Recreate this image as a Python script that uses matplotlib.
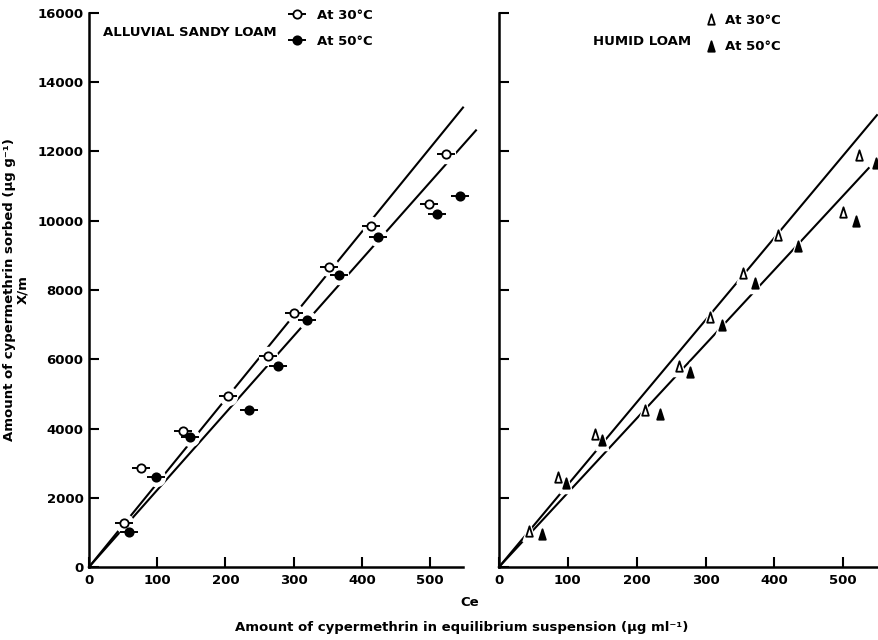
import matplotlib
matplotlib.use("Agg")
from matplotlib import pyplot as plt
from matplotlib.path import Path

# ---- data ----
left_30_x = [52, 76, 138, 203, 262, 300, 351, 413, 498, 523]
left_30_y = [1280, 2850, 3930, 4940, 6100, 7350, 8650, 9850, 10480, 11930]
left_50_x = [59, 98, 148, 235, 277, 320, 367, 423, 510, 543]
left_50_y = [1020, 2590, 3760, 4520, 5800, 7130, 8430, 9540, 10200, 10720]

right_30_x = [44, 86, 140, 212, 262, 307, 355, 405, 500, 523]
right_30_y = [1050, 2610, 3830, 4530, 5810, 7220, 8500, 9590, 10260, 11900]
right_50_x = [62, 98, 150, 234, 278, 324, 372, 435, 518, 547]
right_50_y = [950, 2440, 3670, 4410, 5640, 6990, 8190, 9280, 10000, 11660]

# fitted isotherm lines: (x end, y end), both through origin
left_30_fit = (548, 13270)
left_50_fit = (567, 12610)
right_30_fit = (549, 13050)
right_50_fit = (537, 11520)

y_ticks = [0, 2000, 4000, 6000, 8000, 10000, 12000, 14000, 16000]
x_ticks = [0, 100, 200, 300, 400, 500]

FONT = dict(family="DejaVu Sans", weight="bold")
plt.rcParams["font.family"] = "DejaVu Sans"
plt.rcParams["font.weight"] = "bold"

tri_path = Path([(-0.32, -0.5), (0.32, -0.5), (0.0, 0.5), (-0.32, -0.5)],
                [Path.MOVETO, Path.LINETO, Path.LINETO, Path.CLOSEPOLY])

fig = plt.figure(figsize=(8.79, 6.4), dpi=100)
ax_l = fig.add_axes([89 / 879, 73 / 640, 374 / 879, 554 / 640])
ax_r = fig.add_axes([499 / 879, 73 / 640, 380 / 879, 554 / 640])


def style_axes(ax, xmax, show_ylabels):
    ax.set_xlim(0, xmax)
    ax.set_ylim(0, 16000)
    for side in ("top", "right"):
        ax.spines[side].set_visible(False)
    for side in ("left", "bottom"):
        ax.spines[side].set_linewidth(1.8)
    ax.set_xticks(x_ticks)
    ax.set_yticks(y_ticks)
    ax.tick_params(direction="in", length=7, width=1.5, labelsize=9.5, pad=5)
    ax.tick_params(axis="y", pad=4)
    if not show_ylabels:
        ax.set_yticklabels([])
    else:
        ax.set_yticklabels([str(t) for t in y_ticks])
    for lab in ax.get_xticklabels() + ax.get_yticklabels():
        lab.set_fontweight("bold")


def draw_fit(ax, fit):
    ax.plot([0, fit[0]], [0, fit[1]], color="black", lw=1.5, clip_on=False, zorder=2)


def draw_points(ax, xs, ys, marker, filled, ms, dash):
    # white halo breaks the fit line round each point
    ax.plot(xs, ys, ls="none", marker=marker, ms=ms + 7, mfc="white", mec="white",
            clip_on=False, zorder=3)
    handles = []
    if dash:
        d, = ax.plot(xs, ys, ls="none", marker="_", ms=ms * 2.1, mew=1.4,
                     color="black", clip_on=False, zorder=4)
        handles.append(d)
    m, = ax.plot(xs, ys, ls="none", marker=marker, ms=ms, mew=1.3,
                 mfc="black" if filled else "white", mec="black",
                 clip_on=False, zorder=5)
    handles.append(m)
    return tuple(handles)


# ---- left panel: alluvial sandy loam ----
style_axes(ax_l, 548, True)
draw_fit(ax_l, left_30_fit)
draw_fit(ax_l, left_50_fit)
h30 = draw_points(ax_l, left_30_x, left_30_y, "o", False, 6, True)
h50 = draw_points(ax_l, left_50_x, left_50_y, "o", True, 6, True)
ax_l.text(0.037, 0.964, "ALLUVIAL SANDY LOAM", transform=ax_l.transAxes,
          ha="left", va="center", fontsize=9.5, **FONT)
ax_l.legend([h30, h50], ["At 30°C", "At 50°C"], loc="upper left",
            bbox_to_anchor=(0.515, 1.02), frameon=False, handlelength=1.3,
            handletextpad=0.9, labelspacing=1.0, borderpad=0,
            prop=dict(size=9.5, weight="bold"))
ax_l.set_ylabel("Amount of cypermethrin sorbed (µg g⁻¹)\nX/m",
                fontsize=9.5, fontweight="bold", labelpad=6, linespacing=1.0)

# ---- right panel: humid loam ----
style_axes(ax_r, 552, False)
draw_fit(ax_r, right_30_fit)
draw_fit(ax_r, right_50_fit)
t30 = draw_points(ax_r, right_30_x, right_30_y, tri_path, False, 7.5, False)
t50 = draw_points(ax_r, right_50_x, right_50_y, tri_path, True, 7.5, False)
ax_r.text(0.247, 0.948, "HUMID LOAM", transform=ax_r.transAxes,
          ha="left", va="center", fontsize=9.5, **FONT)
ax_r.legend([t30, t50], ["At 30°C", "At 50°C"], loc="upper left",
            bbox_to_anchor=(0.53, 1.01), frameon=False, handlelength=0.6,
            handletextpad=0.8, labelspacing=1.0, borderpad=0,
            prop=dict(size=9.5, weight="bold"))

# shared x axis captions
fig.text(470 / 879, 1 - 603 / 640, "Ce", ha="center", va="center",
         fontsize=9.5, **FONT)
fig.text(462 / 879, 1 - 628 / 640,
         "Amount of cypermethrin in equilibrium suspension (µg ml⁻¹)",
         ha="center", va="center", fontsize=9.5, **FONT)

fig.savefig("out.png", dpi=100)
